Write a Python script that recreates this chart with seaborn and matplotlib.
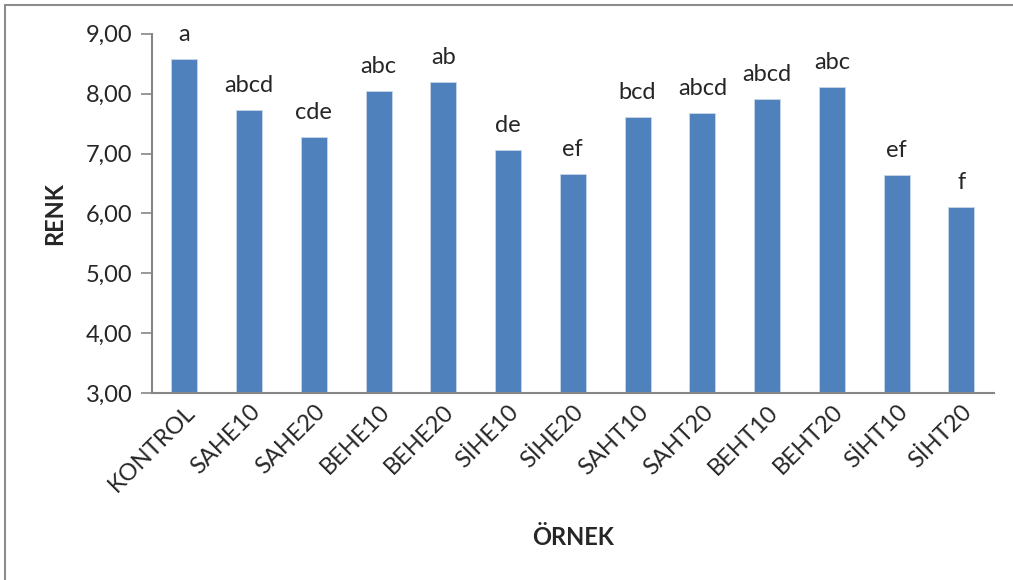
import matplotlib
matplotlib.use("Agg")
import matplotlib.pyplot as plt
import seaborn as sns
import pandas as pd
from matplotlib.lines import Line2D
from matplotlib.ticker import FuncFormatter

samples = ['KONTROL', 'SAHE10', 'SAHE20', 'BEHE10', 'BEHE20', 'SİHE10', 'SİHE20',
           'SAHT10', 'SAHT20', 'BEHT10', 'BEHT20', 'SİHT10', 'SİHT20']
renk = [8.57, 7.72, 7.27, 8.04, 8.19, 7.06, 6.66,
        7.61, 7.68, 7.91, 8.11, 6.64, 6.10]
letters = ['a', 'abcd', 'cde', 'abc', 'ab', 'de', 'ef',
           'bcd', 'abcd', 'abcd', 'abc', 'ef', 'f']

df = pd.DataFrame({'ÖRNEK': samples, 'RENK': renk})

sns.set_style("white")
plt.rcParams['font.family'] = ['Lato', 'DejaVu Sans']

fig = plt.figure(figsize=(10.13, 5.80), dpi=100)
ax = fig.add_axes([0.150, 0.3216, 0.831, 0.6206])

sns.barplot(data=df, x='ÖRNEK', y='RENK', color='#4F81BD', saturation=1,
            width=0.4, edgecolor='#C9D6EA', linewidth=0.6, ax=ax)

# harfler (istatistik grupları) çubukların üstüne
for i, (v, s) in enumerate(zip(renk, letters)):
    ax.annotate(s, (i, v), xytext=(0, 13), textcoords='offset points',
                ha='center', va='baseline', fontsize=17)

ax.set_ylim(3, 9)
ax.set_xlim(-0.5, len(samples) - 0.5)
ax.set_yticks(range(3, 10))
ax.yaxis.set_major_formatter(FuncFormatter(lambda y, p: f'{y:.2f}'.replace('.', ',')))

for side in ['top', 'right']:
    ax.spines[side].set_visible(False)
for side in ['left', 'bottom']:
    ax.spines[side].set_color('#868686')
    ax.spines[side].set_linewidth(1.5)

ax.tick_params(axis='y', which='major', left=True, length=8, width=1.2,
               color='#868686', labelsize=17, pad=6)
ax.tick_params(axis='x', bottom=False, labelsize=17, pad=2)
plt.setp(ax.get_xticklabels(), rotation=45, ha='right', rotation_mode='anchor')

ax.set_ylabel('RENK', fontsize=17, fontweight='bold', labelpad=14)
ax.set_xlabel('ÖRNEK', fontsize=17, fontweight='bold', labelpad=22)

# grafik çerçevesi
fig.add_artist(Line2D([5 / 1013, 5 / 1013], [0, 1 - 5 / 580], transform=fig.transFigure,
                      color='#8C8C8C', linewidth=1.5))
fig.add_artist(Line2D([5 / 1013, 1], [1 - 5 / 580, 1 - 5 / 580], transform=fig.transFigure,
                      color='#8C8C8C', linewidth=1.5))

fig.savefig('out.png', dpi=100)
